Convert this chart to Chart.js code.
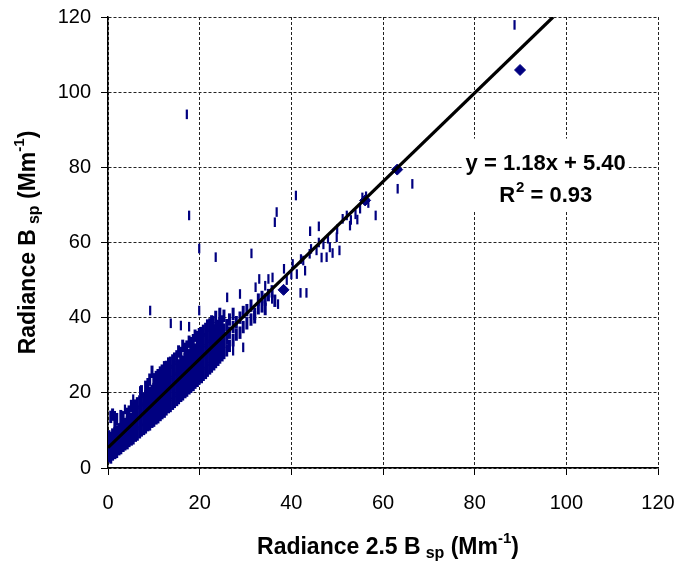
<!DOCTYPE html>
<html lang="en">
<head>
<meta charset="UTF-8">
<title>Radiance Bsp vs Radiance 2.5 Bsp</title>
<script src="https://cdn.jsdelivr.net/npm/chart.js"></script>
<style>
  body { margin: 0; background: #fff; }
  canvas { display: block; }
</style>
</head>
<body>
<canvas id="bspChart" width="683" height="564"></canvas>
<script>
// dense band of readings: each row is [x, y, y, ...]
const bandColumns = [
  [0.2, 3.2, 5.8, 8.4],
  [0.6, 2.8, 5.4, 8.0, 13.6],
  [1.0, 3.6, 6.2, 8.9, 14.2],
  [1.5, 4.0, 6.7, 9.3, 11.8],
  [1.9, 4.3, 7.0, 9.7, 13.0],
  [2.4, 5.0, 7.6, 10.3],
  [2.8, 5.3, 8.0, 10.6, 13.8],
  [3.3, 5.9, 8.6, 11.2, 13.5],
  [3.7, 6.3, 9.0, 11.7],
  [4.2, 6.6, 9.4, 12.1, 14.4],
  [4.6, 7.2, 9.9, 12.6, 15.0],
  [5.1, 7.6, 10.3, 13.0, 16.5],
  [5.5, 7.9, 10.7, 13.4, 15.8],
  [6.0, 8.6, 11.3, 14.0, 16.6],
  [6.4, 8.9, 11.7, 14.5, 17.2],
  [6.9, 9.5, 12.2, 15.0, 17.7],
  [7.3, 10.0, 12.8, 15.4, 18.0, 20.4],
  [7.8, 10.4, 13.1, 15.9, 18.5],
  [8.2, 10.8, 13.6, 16.3, 19.0, 21.6],
  [8.7, 11.4, 14.1, 16.9, 19.6, 22.3],
  [9.1, 11.6, 14.5, 17.2, 20.0, 23.5],
  [9.6, 12.3, 15.0, 17.8, 20.5, 25.6],
  [10.0, 12.6, 15.5, 18.2, 21.0, 23.6],
  [10.5, 13.2, 16.0, 18.8, 21.5, 24.2],
  [10.9, 13.5, 16.4, 19.2, 22.0, 24.7],
  [11.4, 14.1, 17.0, 19.8, 22.6, 25.4],
  [11.8, 14.6, 17.4, 20.3, 23.0, 25.9],
  [12.3, 15.0, 18.0, 20.8, 23.7, 26.8],
  [12.7, 15.6, 18.4, 21.3, 24.1, 26.9],
  [13.2, 16.2, 19.0, 21.9, 24.7, 27.8],
  [13.6, 16.5, 19.5, 22.3, 25.2, 28.0],
  [14.1, 17.1, 20.0, 22.9, 25.8, 28.6],
  [14.5, 17.6, 20.5, 23.4, 26.2, 29.1],
  [15.0, 18.1, 21.0, 23.9, 26.8, 29.7],
  [15.4, 18.6, 21.5, 24.4, 27.3, 31.0],
  [15.9, 19.2, 22.1, 25.0, 27.9, 30.6],
  [16.3, 19.6, 22.5, 25.4, 28.3, 32.5],
  [16.8, 20.2, 23.1, 26.0, 28.9, 31.7],
  [17.2, 20.6, 23.6, 26.5, 29.4, 32.3],
  [17.7, 21.2, 24.1, 27.0, 30.0, 33.6],
  [18.1, 21.6, 24.6, 27.5, 30.4, 33.2],
  [18.6, 22.1, 25.1, 28.1, 31.0, 34.0],
  [19.0, 22.7, 25.6, 28.6, 31.5, 35.2],
  [19.5, 23.2, 26.2, 29.1, 32.1, 34.8],
  [19.9, 23.8, 26.7, 29.7, 32.6, 35.6],
  [20.4, 24.2, 27.2, 30.2, 33.2, 35.9],
  [20.8, 24.8, 27.8, 30.8, 33.7, 36.5],
  [21.3, 25.3, 28.3, 31.3, 34.3, 37.0],
  [21.7, 25.9, 28.9, 31.9, 34.9, 37.9],
  [22.2, 26.5, 29.5, 32.5, 35.4, 38.2],
  [22.6, 27.0, 30.0, 33.0, 36.0, 39.0],
  [23.1, 27.6, 30.6, 33.6, 36.6],
  [23.5, 28.2, 31.2, 34.2, 37.2, 40.2],
  [24.0, 28.8, 31.8, 34.8, 37.8],
  [24.4, 29.4, 32.4, 35.4, 38.4, 41.0],
  [24.9, 30.0, 33.0, 36.0, 39.0],
  [25.3, 30.6, 33.6, 36.8, 40.5],
  [25.9, 31.3, 34.5, 38.0],
  [26.5, 32.5, 36.0, 39.5],
  [27.3, 34.0, 37.5, 41.0],
  [28.0, 35.5, 38.8],
  [28.8, 36.0, 40.0],
  [29.5, 37.5, 41.5],
  [30.3, 38.5, 42.0],
  [31.2, 39.5, 43.2],
  [32.0, 40.1, 41.0],
  [32.8, 42.5, 44.8],
  [33.6, 43.0, 45.5],
  [34.3, 42.3, 44.8],
  [35.0, 46.0],
  [35.8, 47.0],
  [36.4, 44.5]
];

// scattered readings away from the band
const scatterPoints = [
  [17.2, 94.1], [17.7, 67.2], [19.9, 58.4], [23.5, 56.1], [31.3, 57.1],
  [36.8, 68.1], [36.4, 65.4], [41.0, 72.5], [46.0, 64.3], [44.1, 63.0],
  [63.2, 74.3], [66.4, 75.6], [88.7, 117.9], [58.4, 67.2], [56.3, 72.3],
  [54.4, 66.1], [52.1, 67.2], [51.2, 66.3], [52.8, 64.5], [50.5, 57.9],
  [49.9, 61.4], [47.7, 56.1], [48.4, 58.7], [45.5, 57.9], [44.3, 58.3],
  [42.6, 55.2], [42.1, 55.6], [40.3, 54.3], [38.4, 53.0], [41.2, 51.6],
  [35.9, 50.7], [35.0, 50.3], [33.0, 50.3], [34.3, 48.5], [37.1, 43.6],
  [35.8, 45.0], [32.2, 48.1], [42.0, 46.6], [43.3, 46.6], [26.0, 45.4],
  [28.8, 46.3], [23.0, 39.2], [24.4, 41.0], [27.3, 31.2], [29.5, 32.1],
  [9.2, 41.9], [19.9, 41.9], [13.7, 38.5], [15.9, 37.9], [17.7, 37.6],
  [3.7, 15.6], [1.5, 13.9], [5.5, 18.3], [7.0, 20.5],
  [44.0, 57.0], [46.0, 60.0], [47.0, 59.5], [48.0, 61.0], [50.0, 63.5],
  [53.0, 66.0], [54.0, 67.5], [55.0, 69.0], [56.8, 70.5], [39.0, 50.0],
  [40.0, 51.5], [43.0, 52.5], [46.6, 56.0], [49.0, 57.2], [55.5, 72.0]
];

// diamond markers
const diamondPoints = [[38.3, 47.4], [56.1, 71.2], [63.1, 79.4], [89.9, 105.9]];

// linear fit shown on the chart
const fitSlope = 1.18;
const fitIntercept = 5.40;
const fitR2 = 0.93;

const axisMin = 0;
const axisMax = 120;
const axisStep = 20;

const navy = '#000080';
const fontFamily = "'Liberation Sans', Arial, sans-serif";

const bandData = [];
bandColumns.forEach(col => {
  for (let i = 1; i < col.length; i++) bandData.push({ x: col[0], y: col[i] });
});
const scatterData = scatterPoints.map(p => ({ x: p[0], y: p[1] }));
const diamondData = diamondPoints.map(p => ({ x: p[0], y: p[1] }));
const fitData = [
  { x: axisMin, y: fitIntercept },
  { x: (axisMax - fitIntercept) / fitSlope, y: axisMax }
];

// draws a string made of normal / sub / sup parts centred on (cx, cy)
function drawRich(ctx, parts, cx, cy) {
  let total = 0;
  parts.forEach(p => {
    ctx.font = 'bold ' + p.size + 'px ' + fontFamily;
    p.w = ctx.measureText(p.t).width;
    total += p.w + (p.gap || 0);
  });
  let x = cx - total / 2;
  parts.forEach(p => {
    ctx.font = 'bold ' + p.size + 'px ' + fontFamily;
    x += p.gap || 0;
    ctx.fillText(p.t, x, cy + (p.dy || 0));
    x += p.w;
  });
}

const titleParts = (lead) => [
  { t: lead, size: 23 },
  { t: 'sp', size: 16, dy: 6, gap: 5 },
  { t: ' (Mm', size: 23 },
  { t: '-1', size: 15, dy: -9 },
  { t: ')', size: 23 }
];

const textPlugin = {
  id: 'richTexts',
  afterDatasetsDraw(chart) {
    const ctx = chart.ctx;
    const xs = chart.scales.x, ys = chart.scales.y;
    ctx.save();
    ctx.textAlign = 'left';
    ctx.textBaseline = 'middle';

    // fit equation with white box behind
    const ex = xs.getPixelForValue(95.5);
    const ey = ys.getPixelForValue(81);
    ctx.fillStyle = '#fff';
    ctx.fillRect(ex - 83, ey - 25, 166, 73);
    ctx.fillStyle = '#000';
    drawRich(ctx, [{ t: 'y = ' + fitSlope.toFixed(2) + 'x + ' + fitIntercept.toFixed(2), size: 22 }], ex, ey);
    drawRich(ctx, [
      { t: 'R', size: 22 },
      { t: '2', size: 15, dy: -8, gap: 1 },
      { t: ' = ' + fitR2.toFixed(2), size: 22 }
    ], ex, ey + 32);
    ctx.restore();
  },
  afterDraw(chart) {
    const ctx = chart.ctx;
    const area = chart.chartArea;
    ctx.save();
    ctx.textAlign = 'left';
    ctx.textBaseline = 'middle';
    ctx.fillStyle = '#000';

    // x axis title
    drawRich(ctx, titleParts('Radiance 2.5 B'), (area.left + area.right) / 2 + 5, 548);

    // y axis title
    ctx.translate(29, (area.top + area.bottom) / 2);
    ctx.rotate(-Math.PI / 2);
    drawRich(ctx, titleParts('Radiance B'), 0, 0);
    ctx.restore();
  }
};

function axisOptions(padding, fitFn) {
  return {
    type: 'linear',
    min: axisMin,
    max: axisMax,
    ticks: {
      stepSize: axisStep,
      color: '#000',
      padding: padding,
      font: { family: fontFamily, size: 20 }
    },
    grid: {
      color: '#222',
      lineWidth: 1,
      tickLength: 7,
      tickColor: '#000',
      tickWidth: 1
    },
    border: { color: '#000', width: 1.5, dash: [3, 2] },
    afterFit: fitFn
  };
}

const dashStyle = {
  pointStyle: 'line',
  rotation: 90,
  borderColor: navy,
  backgroundColor: navy,
  borderWidth: 2.2
};

new Chart(document.getElementById('bspChart').getContext('2d'), {
  type: 'scatter',
  data: {
    datasets: [
      {
        type: 'line',
        label: 'Fit',
        data: fitData,
        borderColor: '#000',
        borderWidth: 3.2,
        pointRadius: 0,
        fill: false,
        order: 0
      },
      {
        label: 'Diamonds',
        data: diamondData,
        pointStyle: 'rectRot',
        pointRadius: 5.5,
        backgroundColor: navy,
        borderColor: navy,
        borderWidth: 1,
        order: 1
      },
      Object.assign({ label: 'Band', data: bandData, pointRadius: 6.2, order: 2 }, dashStyle, { borderWidth: 3 }),
      Object.assign({ label: 'Scatter', data: scatterData, pointRadius: 4.8, order: 3 }, dashStyle)
    ]
  },
  options: {
    responsive: false,
    animation: false,
    devicePixelRatio: 1,
    layout: { padding: { top: 17, right: 25, left: 0, bottom: 0 } },
    events: [],
    plugins: {
      legend: { display: false },
      tooltip: { enabled: false }
    },
    scales: {
      x: axisOptions(16, s => { s.height = 96; s.paddingLeft = 0; s.paddingRight = 0; }),
      y: axisOptions(10, s => { s.width = 108; s.paddingTop = 0; s.paddingBottom = 0; })
    }
  },
  plugins: [textPlugin]
});
</script>
</body>
</html>
